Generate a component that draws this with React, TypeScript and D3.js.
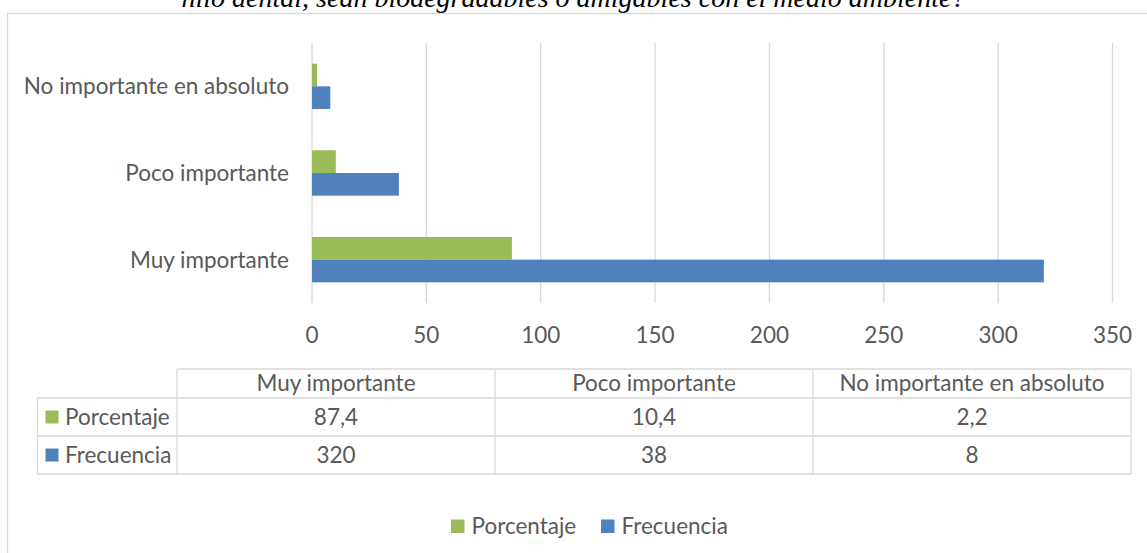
import React from "react";
import * as d3 from "d3";

const categories = ["No importante en absoluto", "Poco importante", "Muy importante"];
const tableCategories = ["Muy importante", "Poco importante", "No importante en absoluto"];
const seriesNames = ["Porcentaje", "Frecuencia"];
const porcentaje = [2.2, 10.4, 87.4];
const frecuencia = [8, 38, 320];
const porcentajeLabels = ["87,4", "10,4", "2,2"];
const frecuenciaLabels = ["320", "38", "8"];
const xTicks = [0, 50, 100, 150, 200, 250, 300, 350];
const titleText = "hilo dental, sean biodegradables o amigables con el medio ambiente?";

const W = 1147;
const H = 553;
const colors: Record<string, string> = { Porcentaje: "#9BBB59", Frecuencia: "#4F81BD" };
const textColor = "#595959";
const gridColor = "#D9D9D9";
const font = "Lato, 'Open Sans', sans-serif";
const fs = 22.5;

export default function App() {
  const x = d3.scaleLinear().domain([0, 350]).range([312, 1112.5]);
  const y = d3.scaleBand<string>().domain(categories).range([43, 303]).paddingInner(0.477).paddingOuter(0.2385);
  const ys = d3.scaleBand<string>().domain(seriesNames).range([0, y.bandwidth()]);
  const values: Record<string, number[]> = { Porcentaje: porcentaje, Frecuencia: frecuencia };

  const tLeft = 37.5, tLegendRight = 177, tRight = 1131;
  const colW = (tRight - tLegendRight) / tableCategories.length;
  const rowY = [369, 398, 436, 474];
  const rowLabels: Record<string, string[]> = { Porcentaje: porcentajeLabels, Frecuencia: frecuenciaLabels };

  return (
    <svg width={W} height={H} style={{ position: "absolute", left: 0, top: 0, background: "#fff" }}>
      <rect x={0} y={0} width={W} height={H} fill="#fff" />
      <text x={W / 2} y={6.5} textAnchor="middle" fontFamily="'Liberation Serif', 'Times New Roman', serif" fontStyle="italic" fontSize={28} fill="#000">
        {titleText}
      </text>
      <rect x={7.5} y={13.5} width={W + 20} height={H + 20} fill="none" stroke={gridColor} strokeWidth={1.3} />

      {xTicks.map((t) => (
        <g key={t}>
          <line x1={x(t)} x2={x(t)} y1={43} y2={303} stroke={gridColor} strokeWidth={1.3} />
          <text x={x(t)} y={335} dy="0.35em" textAnchor="middle" fontFamily={font} fontSize={fs} fill={textColor}>
            {t}
          </text>
        </g>
      ))}

      {categories.map((c, i) => (
        <g key={c}>
          <text x={289} y={(y(c) as number) + y.bandwidth() / 2} dy="0.35em" textAnchor="end" fontFamily={font} fontSize={fs} fill={textColor}>
            {c}
          </text>
          {seriesNames.map((s) => (
            <rect
              key={s}
              x={x(0)}
              y={(y(c) as number) + (ys(s) as number)}
              width={x(values[s][i]) - x(0)}
              height={ys.bandwidth()}
              fill={colors[s]}
            />
          ))}
        </g>
      ))}

      {/* data table */}
      <g stroke={gridColor} strokeWidth={1.3} fill="none">
        <line x1={tLegendRight} x2={tRight} y1={rowY[0]} y2={rowY[0]} />
        <line x1={tLeft} x2={tRight} y1={rowY[1]} y2={rowY[1]} />
        <line x1={tLeft} x2={tRight} y1={rowY[2]} y2={rowY[2]} />
        <line x1={tLeft} x2={tRight} y1={rowY[3]} y2={rowY[3]} />
        <line x1={tLeft} x2={tLeft} y1={rowY[1]} y2={rowY[3]} />
        <line x1={tLegendRight} x2={tLegendRight} y1={rowY[0]} y2={rowY[3]} />
        {tableCategories.map((c, j) => (
          <line key={c} x1={tLegendRight + colW * (j + 1)} x2={tLegendRight + colW * (j + 1)} y1={rowY[0]} y2={rowY[3]} />
        ))}
      </g>
      {tableCategories.map((c, j) => (
        <text key={c} x={tLegendRight + colW * (j + 0.5)} y={(rowY[0] + rowY[1]) / 2} dy="0.35em" textAnchor="middle" fontFamily={font} fontSize={fs} fill={textColor}>
          {c}
        </text>
      ))}
      {seriesNames.map((s, r) => {
        const cy = (rowY[r + 1] + rowY[r + 2]) / 2;
        return (
          <g key={s}>
            <rect x={45.5} y={cy - 6.5} width={13} height={13} fill={colors[s]} />
            <text x={65} y={cy} dy="0.35em" fontFamily={font} fontSize={fs} fill={textColor}>
              {s}
            </text>
            {rowLabels[s].map((v, j) => (
              <text key={j} x={tLegendRight + colW * (j + 0.5)} y={cy} dy="0.35em" textAnchor="middle" fontFamily={font} fontSize={fs} fill={textColor}>
                {v}
              </text>
            ))}
          </g>
        );
      })}

      {/* legend */}
      {seriesNames.map((s, i) => {
        const lx = i === 0 ? 451 : 601;
        return (
          <g key={s}>
            <rect x={lx} y={519.5} width={13.5} height={13.5} fill={colors[s]} />
            <text x={lx + 20.5} y={526} dy="0.35em" fontFamily={font} fontSize={fs} fill={textColor}>
              {s}
            </text>
          </g>
        );
      })}
    </svg>
  );
}
